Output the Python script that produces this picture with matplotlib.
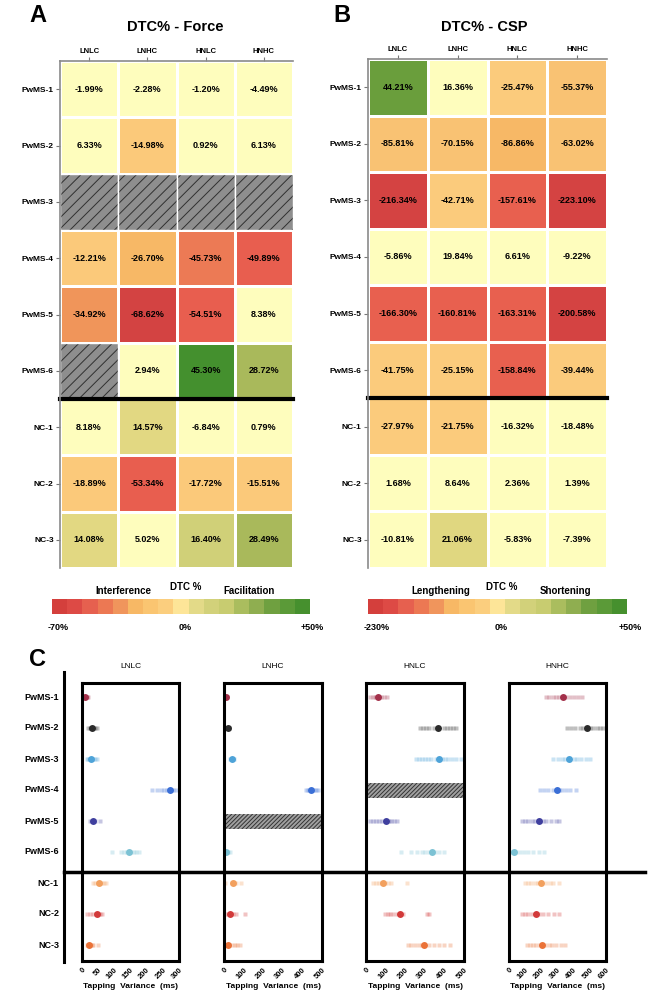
#DTC% heatmaps (force, CSP) and tapping variance per subject

import matplotlib.pyplot as plt
import numpy as np
from matplotlib.colors import ListedColormap, BoundaryNorm
from matplotlib.patches import Rectangle
from matplotlib.lines import Line2D

plt.rcParams['font.family'] = ['Liberation Sans', 'DejaVu Sans']
plt.rcParams['hatch.linewidth'] = 0.7

W, H = 648, 992

conds = ['LNLC', 'LNHC', 'HNLC', 'HNHC']
subjects = ['PwMS-1', 'PwMS-2', 'PwMS-3', 'PwMS-4', 'PwMS-5', 'PwMS-6', 'NC-1', 'NC-2', 'NC-3']
nan = np.nan

force = np.array([
    [-1.99, -2.28, -1.20, -4.49],
    [6.33, -14.98, 0.92, 6.13],
    [nan, nan, nan, nan],
    [-12.21, -26.70, -45.73, -49.89],
    [-34.92, -68.62, -54.51, 8.38],
    [nan, 2.94, 45.30, 28.72],
    [8.18, 14.57, -6.84, 0.79],
    [-18.89, -53.34, -17.72, -15.51],
    [14.08, 5.02, 16.40, 28.49],
])
csp = np.array([
    [44.21, 16.36, -25.47, -55.37],
    [-85.81, -70.15, -86.86, -63.02],
    [-216.34, -42.71, -157.61, -223.10],
    [-5.86, 19.84, 6.61, -9.22],
    [-166.30, -160.81, -163.31, -200.58],
    [-41.75, -25.15, -158.84, -39.44],
    [-27.97, -21.75, -16.32, -18.48],
    [1.68, 8.64, 2.36, 1.39],
    [-10.81, 21.06, -5.83, -7.39],
])

force_bounds = [-80, -60, -47, -40, -30, -20, -10, 10, 15, 20, 35, 60]
force_colors = ['#d34342', '#e85e4f', '#ec7a55', '#f0955a', '#f7b866', '#fbc97a',
                '#fefdbd', '#e2d882', '#d0d078', '#a9b95b', '#44902e']
csp_bounds = [-240, -190, -100, -86, -50, -20, 20, 30, 60]
csp_colors = ['#d44342', '#e8604f', '#f7b866', '#f9c273', '#fbcb7c', '#fefdbd', '#e0d780', '#6a9e3c']

bar_colors = ['#d43f3c', '#dd4a45', '#e6604f', '#ec7853', '#f0955c', '#f7b865', '#fac571',
              '#fbce7e', '#fde598', '#e3da88', '#d2d17a', '#c8cc70', '#aabd5e', '#8fae50',
              '#6fa040', '#5b9a38', '#46902e']

# panel C: tapping variance (ms), mean and single trials
subj_colors = ['#a3304a', '#2b2b2b', '#4ea3d8', '#3b6fd6', '#3f3f9e', '#7cc2d4',
               '#f2a05e', '#d23a3a', '#ea7238']
lnlc_mean = [10, 30, 28, 272, 35, 145, 52, 45, 23]
lnhc_mean = [12, 20, 42, 444, nan, 12, 48, 31, 19]
hnlc_mean = [60, 367, 374, nan, 100, 335, 88, 175, 298]
hnhc_mean = [332, 482, 373, 295, 185, 31, 198, 167, 204]
lnlc_trials = [[3, 6, 9, 12, 15, 18], [20, 25, 30, 35, 40, 45], [15, 20, 25, 30, 35, 40, 45],
               [215, 232, 245, 255, 262, 268, 275, 282, 290], [25, 30, 35, 40, 55],
               [94, 120, 130, 138, 145, 152, 160, 168, 175], [33, 40, 48, 55, 62, 68, 74],
               [16, 25, 35, 42, 50, 55, 61], [15, 20, 25, 30, 35, 50]]
lnhc_trials = [[5, 10, 15], [15, 20, 25], [30, 38, 45, 50], [420, 430, 440, 450, 460, 470, 480],
               [], [3, 8, 15, 22, 30], [5, 40, 50, 60, 88], [15, 25, 35, 45, 60, 107],
               [10, 18, 25, 40, 55, 65, 80]]
hnlc_trials = [[20, 35, 45, 55, 65, 75, 90, 105],
               [275, 290, 305, 320, 345, 400, 415, 430, 445, 460],
               [255, 270, 285, 300, 315, 330, 355, 390, 405, 420, 440, 460, 485],
               [], [20, 35, 50, 65, 80, 115, 130, 145, 160],
               [178, 230, 260, 285, 300, 320, 350, 370, 400],
               [35, 50, 65, 80, 95, 110, 130, 210], [95, 110, 125, 140, 160, 190, 310, 323],
               [216, 230, 250, 270, 285, 320, 345, 370, 400, 430]]
hnhc_trials = [[230, 250, 270, 290, 310, 350, 375, 400, 425, 450],
               [360, 385, 410, 440, 460, 500, 520, 545, 565, 580],
               [275, 300, 325, 345, 400, 420, 445, 475, 500],
               [190, 215, 240, 270, 310, 330, 355, 380, 415],
               [80, 100, 120, 140, 160, 210, 230, 260, 290, 307],
               [5, 20, 45, 65, 90, 120, 150, 185, 215],
               [100, 115, 135, 160, 180, 230, 255, 275, 310],
               [80, 100, 120, 140, 185, 210, 240, 280, 310],
               [110, 130, 150, 170, 190, 225, 245, 265, 290, 320, 345]]
c_xmax = [300, 500, 500, 600]
c_step = [50, 100, 100, 100]

fig = plt.figure(figsize=(W / 100, H / 100), dpi=100)


def px_axes(x0, y0, x1, y1):
    return fig.add_axes([x0 / W, 1 - y1 / H, (x1 - x0) / W, (y1 - y0) / H])


def ftext(x, y, s, **kw):
    fig.text(x / W, 1 - y / H, s, **kw)


def heat(ax, vals, bounds, colors):
    cmap = ListedColormap(colors)
    norm = BoundaryNorm(bounds, cmap.N)
    ax.pcolormesh(np.arange(5), np.arange(10), np.ma.masked_invalid(vals), cmap=cmap, norm=norm,
                  edgecolors='white', linewidth=1)
    for i in range(vals.shape[0]):
        for j in range(vals.shape[1]):
            v = vals[i, j]
            if np.isnan(v):
                ax.add_patch(Rectangle((j, i), 1, 1, facecolor='#8e8e8e', edgecolor='#303030',
                                       hatch='///', lw=0))
                ax.add_patch(Rectangle((j, i), 1, 1, facecolor='none', edgecolor='white', lw=1))
            else:
                ax.text(j + 0.5, i + 0.5, '%.2f%%' % v, ha='center', va='center',
                        fontsize=6.5, fontweight='bold')
    ax.set_xlim(0, 4)
    ax.set_ylim(9, 0)
    ax.plot([0, 4], [6, 6], color='black', lw=3, clip_on=False)
    ax.xaxis.tick_top()
    ax.set_xticks(np.arange(4) + 0.5)
    ax.set_xticklabels(conds, fontsize=5.5, fontweight='bold')
    ax.set_yticks(np.arange(9) + 0.5)
    ax.set_yticklabels(subjects, fontsize=6, fontweight='bold')
    ax.tick_params(length=3, width=0.8, color='#777777', pad=1.5)
    for s in ['right', 'bottom']:
        ax.spines[s].set_visible(False)
    for s in ['left', 'top']:
        ax.spines[s].set_color('#8a8a8a')
        ax.spines[s].set_linewidth(1.2)


def cbar(x0, x1, labs, lab_x, ends, end_x):
    ax = px_axes(x0, 599, x1, 614)
    ax.imshow(np.arange(len(bar_colors))[None, :], cmap=ListedColormap(bar_colors), aspect='auto')
    ax.set_axis_off()
    for s, x, y in zip(labs, lab_x, [591, 587, 591]):
        ftext(x, y, s, ha='center', va='center', fontsize=7, fontweight='bold')
    for s, x in zip(ends, end_x):
        ftext(x, 628, s, ha='center', va='center', fontsize=6.5, fontweight='bold')


# panel A
axA = px_axes(60, 61, 293, 568)
heat(axA, force, force_bounds, force_colors)
ftext(38, 16, 'A', ha='center', va='center', fontsize=17, fontweight='bold')
ftext(175, 27, 'DTC% - Force', ha='center', va='center', fontsize=10.5, fontweight='bold')
cbar(52, 310, ['Interference', 'DTC %', 'Facilitation'], [123, 186, 249],
     ['-70%', '0%', '+50%'], [58, 185, 312])

# panel B
axB = px_axes(368, 59, 607, 568)
heat(axB, csp, csp_bounds, csp_colors)
ftext(342, 16, 'B', ha='center', va='center', fontsize=17, fontweight='bold')
ftext(484, 27, 'DTC% - CSP', ha='center', va='center', fontsize=10.5, fontweight='bold')
cbar(368, 627, ['Lengthening', 'DTC %', 'Shortening'], [441, 502, 566],
     ['-230%', '0%', '+50%'], [377, 501, 630])

# panel C
ftext(37, 659, 'C', ha='center', va='center', fontsize=17, fontweight='bold')
boxes = [(82, 179), (224, 322), (366, 464), (509, 606)]
means = [lnlc_mean, lnhc_mean, hnlc_mean, hnhc_mean]
trials = [lnlc_trials, lnhc_trials, hnlc_trials, hnhc_trials]
for k in range(4):
    x0, x1 = boxes[k]
    ax = px_axes(x0, 683, x1, 961)
    for i in range(len(subjects)):
        m = means[k][i]
        if np.isnan(m):
            ax.add_patch(Rectangle((0, i - 0.24), c_xmax[k], 0.48, facecolor='#a0a0a0',
                                   edgecolor='#333333', hatch='////////', lw=0))
            continue
        tr = trials[k][i]
        ax.plot(tr, [i] * len(tr), linestyle='none', marker='s', ms=2.6, color=subj_colors[i],
                alpha=0.3, mec='none')
        ax.plot([m], [i], 'o', ms=5, color=subj_colors[i], mec='none')
    ax.set_xlim(0, c_xmax[k])
    ax.set_ylim(8.5, -0.45)
    ax.set_yticks([])
    xt = np.arange(0, c_xmax[k] + 1, c_step[k])
    ax.set_xticks(xt)
    ax.set_xticklabels([str(v) for v in xt], rotation=45, ha='right', rotation_mode='anchor',
                       fontsize=5.5, fontweight='bold')
    ax.tick_params(axis='x', length=0, pad=4)
    for s in ax.spines.values():
        s.set_linewidth(2.2)
    ftext((x0 + x1) / 2, 667, conds[k], ha='center', va='center', fontsize=6)
    ftext((x0 + x1) / 2, 986, 'Tapping  Variance  (ms)', ha='center', va='center',
          fontsize=6, fontweight='bold')

c_rows_y = [697, 728, 759, 790, 821, 852, 883, 914, 945]
for i in range(len(subjects)):
    ftext(59, c_rows_y[i], subjects[i], ha='right', va='center', fontsize=6.5, fontweight='bold')

fig.add_artist(Line2D([64 / W, 64 / W], [1 - 672 / H, 1 - 962 / H], color='black', lw=2.2))
fig.add_artist(Line2D([64 / W, 645 / W], [1 - 872 / H, 1 - 872 / H], color='black', lw=2.5))

plt.savefig('out.png', dpi=100)
